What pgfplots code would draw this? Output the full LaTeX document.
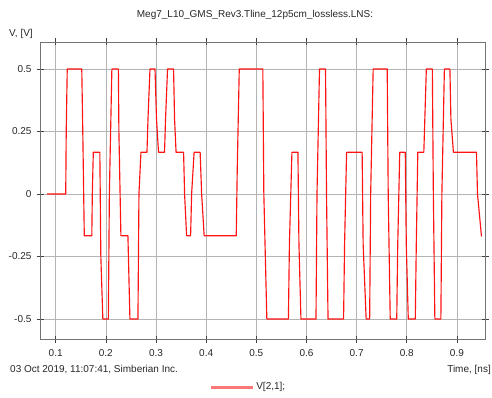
\documentclass[border=0pt]{standalone}
\usepackage{fontspec}
\setmainfont{Liberation Sans}
\usepackage{pgfplots}
\pgfplotsset{compat=1.18}
\definecolor{gridc}{RGB}{180,180,180}
\definecolor{framec}{RGB}{115,115,115}
\definecolor{sigred}{RGB}{255,20,20}
\definecolor{legred}{RGB}{255,120,120}
\newcommand{\fs}{\fontsize{10}{11}\selectfont}
\begin{document}
\begin{tikzpicture}[x=1pt,y=1pt]
\useasboundingbox (0,0) rectangle (492,397);
\begin{axis}[
  at={(40pt,58pt)}, anchor=south west,
  scale only axis, width=445pt, height=297pt,
  xmin=0.0687, xmax=0.956, ymin=-0.58, ymax=0.608,
  xtick={0.1,0.2,0.3,0.4,0.5,0.6,0.7,0.8,0.9},
  xticklabels={0.1,0.2,0.3,0.4,0.5,0.6,0.7,0.8,0.9},
  ytick={-0.5,-0.25,0,0.25,0.5},
  yticklabels={-0.5,-0.25,0,0.25,0.5},
  tick align=center, major tick length=7pt,
  grid=major, grid style={gridc, line width=0.7pt},
  axis line style={framec, line width=0.9pt},
  tick style={black!75, line width=0.6pt},
  ticklabel style={font=\fs, text=black!85},
  xticklabel style={yshift=-3pt},
  yticklabel style={xshift=-1.5pt},
  /pgf/number format/assume math mode=true,
  legend style={at={(0.468,-0.1616)}, anchor=center, draw=none, fill=none,
    font=\fs, text=black!85},
  clip=false,
]
\addplot[sigred, line width=1.15pt, line join=round, forget plot] coordinates {
(0.083,0) (0.120,0) (0.121,0.25) (0.123,0.5) (0.152,0.5) (0.154,0.25) (0.157,-0.167)
(0.172,-0.167) (0.173,0) (0.175,0.167) (0.188,0.167) (0.190,-0.25) (0.194,-0.5)
(0.205,-0.5) (0.207,0) (0.212,0.5) (0.225,0.5) (0.226,0.25) (0.230,-0.167)
(0.244,-0.167) (0.248,-0.5) (0.264,-0.5) (0.266,0) (0.270,0.167) (0.282,0.167)
(0.284,0.3) (0.288,0.5) (0.298,0.5) (0.301,0.3) (0.305,0.167) (0.317,0.167)
(0.319,0.3) (0.323,0.5) (0.335,0.5) (0.337,0.3) (0.340,0.167) (0.355,0.167)
(0.357,0) (0.361,-0.167) (0.369,-0.167) (0.371,0) (0.376,0.167) (0.388,0.167)
(0.391,0) (0.396,-0.167) (0.460,-0.167) (0.462,0.1) (0.466,0.5) (0.513,0.5)
(0.515,0) (0.521,-0.5) (0.564,-0.5) (0.566,-0.2) (0.571,0.167) (0.583,0.167)
(0.585,-0.2) (0.589,-0.5) (0.619,-0.5) (0.621,0) (0.626,0.5) (0.638,0.5)
(0.640,0) (0.643,-0.5) (0.674,-0.5) (0.676,-0.2) (0.680,0.167) (0.711,0.167)
(0.713,-0.2) (0.719,-0.5) (0.726,-0.5) (0.728,0) (0.733,0.5) (0.761,0.5)
(0.763,0) (0.767,-0.5) (0.780,-0.5) (0.782,-0.2) (0.786,0.167) (0.797,0.167)
(0.799,-0.2) (0.803,-0.5) (0.817,-0.5) (0.819,-0.2) (0.822,0.167) (0.834,0.167)
(0.836,0.3) (0.839,0.5) (0.851,0.5) (0.853,0) (0.856,-0.5) (0.868,-0.5)
(0.870,0) (0.875,0.5) (0.886,0.5) (0.888,0.3) (0.893,0.167) (0.939,0.167)
(0.941,0) (0.949,-0.17)
};
\addlegendimage{legend image code/.code={\draw[legred, line width=3pt] (0pt,0pt) -- (42pt,0pt);}}
\addlegendentry{V[2,1];}
\end{axis}
\node[font=\fs, text=black!85] at (255,382) {Meg7\_L10\_GMS\_Rev3.Tline\_12p5cm\_lossless.LNS:};
\node[font=\fs, text=black!85, anchor=west, inner sep=0pt] at (9,363) {V, [V]};
\node[font=\fs, text=black!85, anchor=west, inner sep=0pt] at (10,27) {03 Oct 2019, 11:07:41, Simberian Inc.};
\node[font=\fs, text=black!85, anchor=east, inner sep=0pt] at (491,27) {Time, [ns]};
\end{tikzpicture}
\end{document}
